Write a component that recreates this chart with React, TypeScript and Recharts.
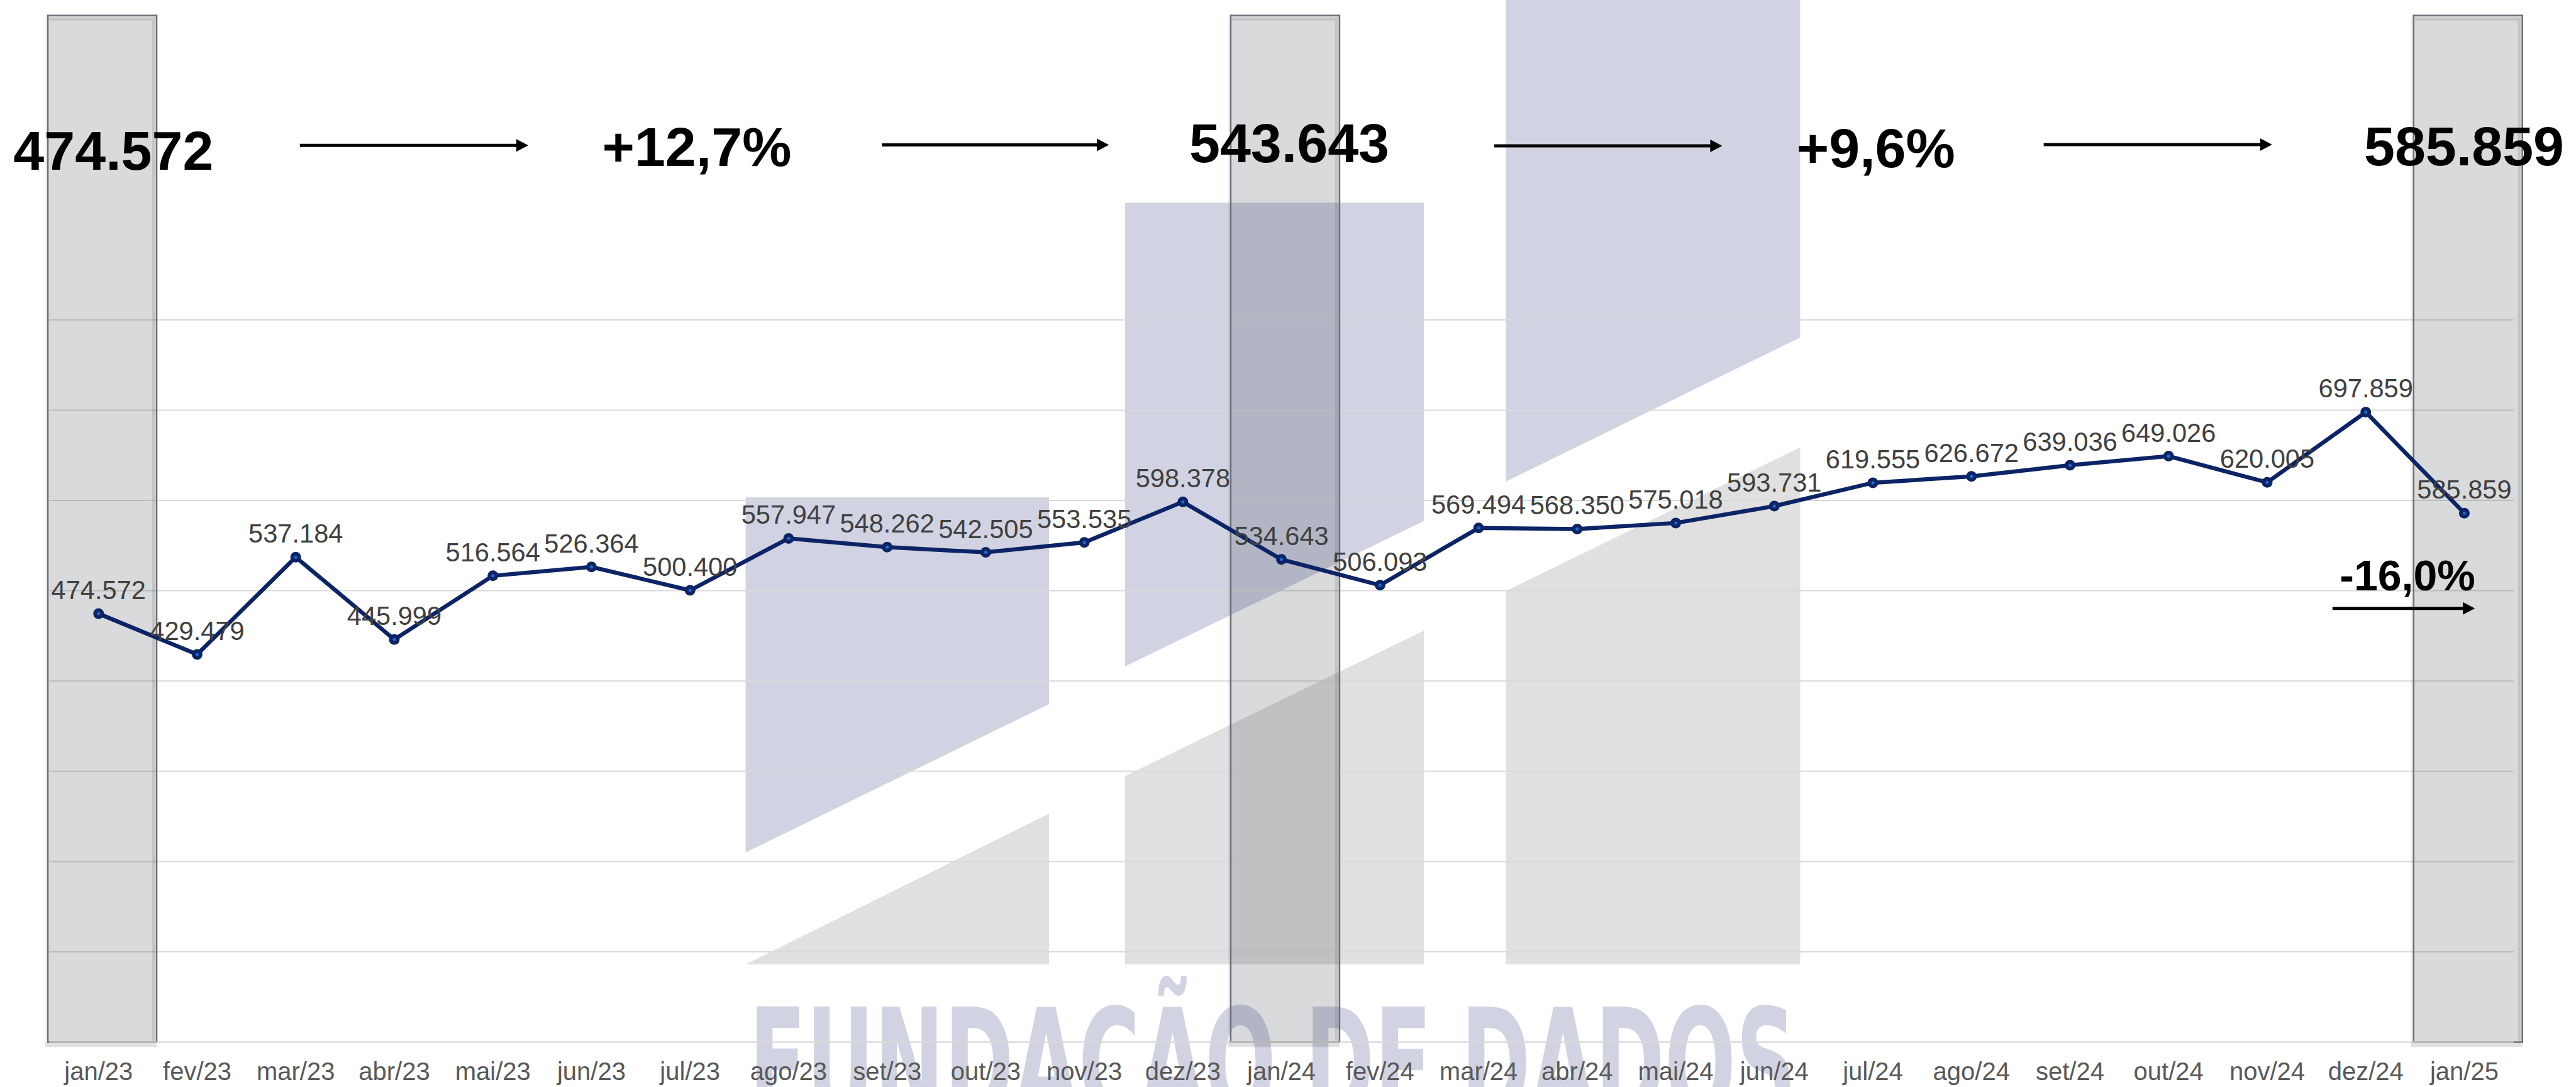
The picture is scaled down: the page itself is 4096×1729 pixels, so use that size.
import React from "react";
import { ComposedChart, Line, Bar, XAxis, YAxis, CartesianGrid, LabelList } from "recharts";

const months = [
  "jan/23", "fev/23", "mar/23", "abr/23", "mai/23", "jun/23", "jul/23", "ago/23", "set/23",
  "out/23", "nov/23", "dez/23", "jan/24", "fev/24", "mar/24", "abr/24", "mai/24", "jun/24",
  "jul/24", "ago/24", "set/24", "out/24", "nov/24", "dez/24", "jan/25",
];

const totals = [
  474572, 429479, 537184, 445999, 516564, 526364, 500400, 557947, 548262,
  542505, 553535, 598378, 534643, 506093, 569494, 568350, 575018, 593731,
  619555, 626672, 639036, 649026, 620005, 697859, 585859,
];

const highlightedMonths = ["jan/23", "jan/24", "jan/25"];

const yTicks = [0, 100000, 200000, 300000, 400000, 500000, 600000, 700000, 800000];
const yMax = 1137200;

const headlineValues = ["474.572", "543.643", "585.859"];
const headlineChanges = ["+12,7%", "+9,6%"];
const lastMonthChange = "-16,0%";

const data = months.map((m, i) => ({
  month: m,
  total: totals[i],
  marker: highlightedMonths.includes(m) ? 1 : null,
}));

const W = 4096;
const H = 1729;
const FONT = "'Liberation Sans', Arial, sans-serif";

const fmt = (v: any) => String(v).replace(/\B(?=(\d{3})+(?!\d))/g, ".");

function HighlightBar(props: any) {
  const { x, y, width, height } = props;
  if (!height) return null;
  const w = 173;
  const left = x + width / 2 + 6 - w / 2;
  return (
    <g>
      <rect x={left - 4} y={y + height + 1} width={w + 4} height={7} fill="#000" fillOpacity={0.12} />
      <rect x={left - 4} y={y + 2} width={3} height={height} fill="#000" fillOpacity={0.05} />
      <rect
        x={left}
        y={y}
        width={w}
        height={height}
        fill="rgb(30,34,40)"
        fillOpacity={0.17}
        stroke="#6b6f76"
        strokeWidth={2.5}
      />
      <rect x={left + 2} y={y + 4} width={w - 4} height={4} fill="#000" fillOpacity={0.1} />
      <rect x={left + w - 7} y={y + 8} width={4} height={height - 10} fill="#000" fillOpacity={0.1} />
    </g>
  );
}

function Dot(props: any) {
  const { cx, cy, index } = props;
  return (
    <g key={`dot-${index}`}>
      <circle cx={cx} cy={cy} r={8.5} fill="#0c2466" />
      <circle cx={cx} cy={cy} r={2.5} fill="#1a6fd0" />
    </g>
  );
}

function Arrow({ x1, x2, y }: { x1: number; x2: number; y: number }) {
  return (
    <g>
      <line x1={x1} y1={y} x2={x2 - 16} y2={y} stroke="#000" strokeWidth={5} />
      <polygon points={`${x2},${y} ${x2 - 19},${y - 10} ${x2 - 19},${y + 10}`} fill="#000" />
    </g>
  );
}

function Watermark() {
  const lav = "#d1d3e2";
  const gray = "#e0e0e0";
  return (
    <svg width={W} height={H} style={{ position: "absolute", left: 0, top: 0 }}>
      <polygon points="1185.6,791.2 1668,791.2 1668,1120 1185.6,1356" fill={lav} />
      <polygon points="1185.6,1534 1668,1294.2 1668,1534" fill={gray} />
      <polygon points="1788.8,322.4 2264,322.4 2264,828.8 1788.8,1060" fill={lav} />
      <polygon points="1788.8,1234.4 2264,1003.2 2264,1534 1788.8,1534" fill={gray} />
      <polygon points="2394.4,0 2862.4,0 2862.4,536.8 2394.4,766" fill={lav} />
      <polygon points="2394.4,940 2862.4,711.6 2862.4,1534 2394.4,1534" fill={gray} />
      <text
        x={1191}
        y={1605.6 + 0.716 * 240}
        fontFamily="'Liberation Sans Narrow', 'DejaVu Sans Condensed', 'Liberation Sans', sans-serif"
        fontWeight="bold"
        fontSize={240}
        fill={lav}
        textLength={1665}
        lengthAdjust="spacingAndGlyphs"
      >
        FUNDAÇÃO DE DADOS
      </text>
    </svg>
  );
}

function Annotations() {
  const valuePos = [
    { x: 180.4, y: 269.6 },
    { x: 2050, y: 258 },
    { x: 3918, y: 262.6 },
  ];
  const changePos = [
    { x: 1108, y: 264 },
    { x: 2982.8, y: 266 },
  ];
  const arrows = [
    { x1: 476.8, x2: 840, y: 231.2 },
    { x1: 1402.4, x2: 1763.2, y: 230.4 },
    { x1: 2376, x2: 2738.4, y: 232 },
    { x1: 3249.6, x2: 3612.8, y: 230 },
  ];
  return (
    <svg width={W} height={H} style={{ position: "absolute", left: 0, top: 0, pointerEvents: "none" }}>
      {headlineValues.map((t, i) => (
        <text key={t} x={valuePos[i].x} y={valuePos[i].y} textAnchor="middle" fontFamily={FONT} fontWeight="bold" fontSize={88} fill="#000">
          {t}
        </text>
      ))}
      {headlineChanges.map((t, i) => (
        <text key={t} x={changePos[i].x} y={changePos[i].y} textAnchor="middle" fontFamily={FONT} fontWeight="bold" fontSize={88} fill="#000">
          {t}
        </text>
      ))}
      {arrows.map((a, i) => (
        <Arrow key={i} {...a} />
      ))}
      <text x={3828} y={939} textAnchor="middle" fontFamily={FONT} fontWeight="bold" fontSize={68} fill="#000">
        {lastMonthChange}
      </text>
      <Arrow x1={3708.8} x2={3935.2} y={967.7} />
    </svg>
  );
}

// grid only at the real ticks; the value scale runs past 800.000 to leave room for the headline
const gridRows = (props: any) => {
  const yAxis = props && props.yAxis;
  if (yAxis && typeof yAxis.scale === "function") return yTicks.map((t) => yAxis.scale(t));
  const off = props.offset;
  return yTicks.map((t) => off.top + off.height * (1 - t / yMax));
};

export default function App() {
  return (
    <div style={{ position: "absolute", left: 0, top: 0, width: W, height: H, background: "#fff", overflow: "hidden" }}>
      <Watermark />
      <div style={{ position: "absolute", left: 0, top: 0 }}>
        <ComposedChart
          width={W}
          height={H}
          data={data}
          margin={{ top: 24.6, right: 99.2, bottom: 0, left: 78.4 }}
        >
          <CartesianGrid
            yAxisId="val"
            vertical={false}
            stroke="#d9d9d9"
            strokeWidth={2}
            horizontalCoordinatesGenerator={gridRows}
          />
          <XAxis
            dataKey="month"
            interval={0}
            height={71.4}
            axisLine={{ stroke: "#d9d9d9", strokeWidth: 2 }}
            tickLine={false}
            tickSize={0}
            tickMargin={32}
            tick={{ fontSize: 40, fill: "#595959", fontFamily: FONT }}
          />
          <YAxis yAxisId="val" hide domain={[0, yMax]} ticks={yTicks} allowDataOverflow />
          <YAxis yAxisId="bar" hide orientation="right" domain={[0, 1]} />
          <Bar yAxisId="bar" dataKey="marker" shape={<HighlightBar />} isAnimationActive={false} />
          <Line
            yAxisId="val"
            type="linear"
            dataKey="total"
            stroke="#0c2466"
            strokeWidth={6.5}
            dot={<Dot />}
            activeDot={false}
            isAnimationActive={false}
          >
            <LabelList
              dataKey="total"
              position="top"
              offset={23}
              formatter={fmt}
              fill="#404040"
              fontSize={41.6}
              fontFamily={FONT}
            />
          </Line>
        </ComposedChart>
      </div>
      <Annotations />
    </div>
  );
}
